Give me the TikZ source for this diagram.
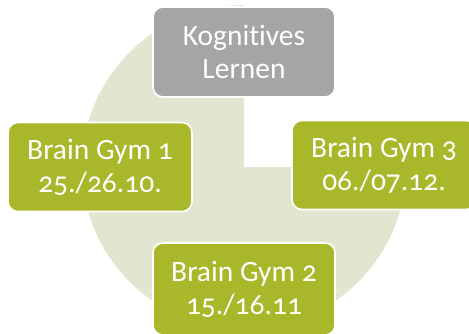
\documentclass[tikz,border=0pt]{standalone}
\usepackage{fontspec}
\setmainfont[Numbers=OldStyle,Ligatures=NoCommon]{Carlito}
\definecolor{piefill}{HTML}{E2E5CF}
\definecolor{boxgreen}{HTML}{A8B82A}
\definecolor{boxgrey}{HTML}{A5A5A5}
\tikzset{
  card/.style={draw=white, line width=1.6pt, rounded corners=10pt, text=white,
    align=center, inner sep=0pt, font=\fontsize{29.5}{33}\selectfont},
}
\begin{document}
\begin{tikzpicture}[x=1pt,y=1pt]
\useasboundingbox (0,0) rectangle (469,333);
\clip (0,0) rectangle (469,333);
\coordinate (c) at (244,166);
\fill[piefill] (c) -- ++(90:162) arc[start angle=90,end angle=360,radius=162] -- cycle;
\node[card, fill=boxgrey, minimum width=182, minimum height=90] (kog) at (244,281) {Kognitives\\Lernen};
\node[card, fill=boxgreen, minimum width=184, minimum height=89] (bg1) at (100,166) {Brain Gym 1\\25./26.10.};
\node[card, fill=boxgreen, minimum width=184, minimum height=89] (bg3) at (384,168) {Brain Gym 3\\06./07.12.};
\node[card, fill=boxgreen, minimum width=182, minimum height=92] (bg2) at (244,44) {Brain Gym 2\\15./16.11};
\end{tikzpicture}
\end{document}
